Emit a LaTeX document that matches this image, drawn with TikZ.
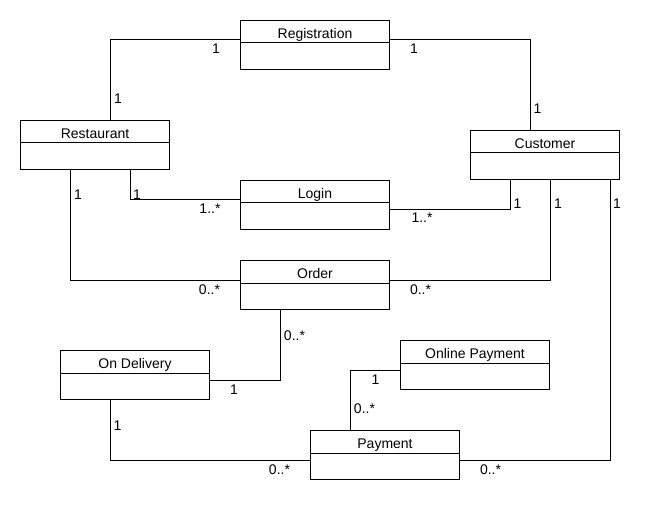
\documentclass[tikz,border=0pt]{standalone}
\usepackage{fontspec}
\setmainfont{Liberation Sans}
% class box: name compartment on top, empty compartment below
\newcommand{\umlclass}[4]{%
  \node[cls] (#1) at (#2,#3) {};
  \node[clsname] (#1-name) at ([yshift=-18.3pt]#1.north) {#4};
  \draw ([yshift=-23pt]#1.north west) -- ([yshift=-23pt]#1.north east);}
\begin{document}
\begin{tikzpicture}[x=1pt,y=-1pt,line width=1pt,
  cls/.style={draw,anchor=north west,minimum width=149pt,minimum height=49pt,inner sep=0pt},
  clsname/.style={anchor=base,inner sep=0pt,font=\fontsize{14}{16}\selectfont},
  mult/.style={anchor=base,inner sep=0pt,font=\fontsize{14}{16}\selectfont}]
\useasboundingbox (0,0) rectangle (660,510);

% Classes
\umlclass{reg}{240}{20}{Registration}
\umlclass{rest}{20}{120}{Restaurant}
\umlclass{cust}{470}{130}{Customer}
\umlclass{login}{240}{180}{Login}
\umlclass{order}{240}{260}{Order}
\umlclass{online}{400}{340}{Online Payment}
\umlclass{deliv}{60}{350}{On Delivery}
\umlclass{pay}{310}{430}{Payment}

% Associations with multiplicities
\draw ([xshift=90pt]rest.north west) |- ([yshift=-20pt]reg.north west)
  node[mult,pos=0,xshift=8pt,yshift=16pt] {1}
  node[mult,pos=1,xshift=-24pt,yshift=-14pt] {1};
\draw ([yshift=-20pt]reg.north east) -| ([xshift=60pt]cust.north west)
  node[mult,pos=0,xshift=24pt,yshift=-14pt] {1}
  node[mult,pos=1,xshift=7.5pt,yshift=16pt] {1};
\draw ([xshift=110pt]rest.south west) |- ([yshift=-20pt]login.north west)
  node[mult,pos=0,xshift=7pt,yshift=-30pt] {1}
  node[mult,pos=1,xshift=-30pt,yshift=-14pt] {1..*};
\draw ([xshift=40pt]cust.south west) |- ([yshift=-30pt]login.north east)
  node[mult,pos=0,xshift=7.5pt,yshift=-29pt] {1}
  node[mult,pos=1,xshift=32pt,yshift=-13pt] {1..*};
\draw ([xshift=50pt]rest.south west) |- ([yshift=-20pt]order.north west)
  node[mult,pos=0,xshift=8pt,yshift=-30pt] {1}
  node[mult,pos=1,xshift=-30.5pt,yshift=-14pt] {0..*};
\draw ([xshift=80pt]cust.south west) |- ([yshift=-20pt]order.north east)
  node[mult,pos=0,xshift=8pt,yshift=-29pt] {1}
  node[mult,pos=1,xshift=30.5pt,yshift=-14pt] {0..*};
\draw ([xshift=40pt]order.south west) |- ([yshift=-30pt]deliv.north east)
  node[mult,pos=0,xshift=14.5pt,yshift=-30pt] {0..*}
  node[mult,pos=1,xshift=24pt,yshift=-14pt] {1};
\draw ([xshift=50pt]deliv.south west) |- ([yshift=-30pt]pay.north west)
  node[mult,pos=0,xshift=7.5pt,yshift=-30pt] {1}
  node[mult,pos=1,xshift=-30.5pt,yshift=-14pt] {0..*};
\draw ([yshift=-30pt]online.north west) -| ([xshift=40pt]pay.north west)
  node[mult,pos=0,xshift=-24.5pt,yshift=-14pt] {1}
  node[mult,pos=1,xshift=14.5pt,yshift=17pt] {0..*};
\draw ([xshift=140pt]cust.south west) |- ([yshift=-30pt]pay.north east)
  node[mult,pos=0,xshift=7pt,yshift=-29pt] {1}
  node[mult,pos=1,xshift=30.5pt,yshift=-14pt] {0..*};

\end{tikzpicture}
\end{document}
